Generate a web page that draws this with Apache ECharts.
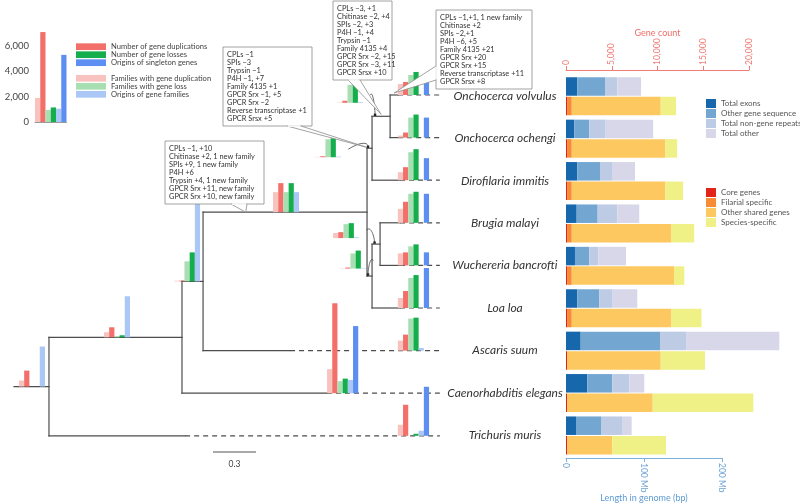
<!DOCTYPE html>
<html><head><meta charset="utf-8">
<script src="https://cdn.jsdelivr.net/npm/echarts@6/dist/echarts.min.js"></script>
<style>html,body{margin:0;padding:0;background:#fff}#c{width:800px;height:503px}</style>
</head><body><div id="c"></div><script>
const FONT = 'Lato, "Open Sans", "DejaVu Sans", sans-serif';

// ---------------- DATA ----------------
const species = ['Onchocerca volvulus','Onchocerca ochengi','Dirofilaria immitis','Brugia malayi','Wuchereria bancrofti','Loa loa','Ascaris suum','Caenorhabditis elegans','Trichuris muris'];

// genome composition (Mb)
const exonsMb      = [14.5, 10.6, 14.5, 13.7, 11.5, 14.5, 18.8, 27.3, 12.8];
const otherGeneMb  = [35.5, 19.2, 29.1, 26.9, 18.4, 28.2, 101.7, 32.1, 32.1];
const repeatsMb    = [15.8, 21.0, 16.3, 25.1, 11.5, 17.1, 34.2, 21.8, 27.8];
const otherMb      = [30.4, 61.0, 28.6, 28.2, 35.5, 31.6, 118.8, 19.2, 11.5];
// gene counts
const coreGenes       = [120, 120, 120, 120, 120, 120, 120, 120, 120];
const filarialGenes   = [510, 510, 510, 510, 510, 510, 0, 0, 0];
const otherShared     = [9720, 10230, 10230, 10900, 11170, 10900, 10230, 9355, 4940];
const speciesSpecific = [1670, 1280, 1935, 2480, 1130, 3280, 4840, 10995, 5870];

// tree: node ids, parents, branch lengths (substitutions per site)
const nodeIds      = ['root','N1','N2','N3','N4','N5','N6','N7'].concat(species);
const nodeParent   = [null,'root','N1','N2','N3','N4','N3','N6','N5','N5','N4','N7','N7','N6','N2','N1','root'];
const branchLength = [0.244, 0.928, 0.147, 1.144, 0.035, 0.126, 0.035, 0.056, 0.056, 0.056, 0.195, 0.14, 0.14, 0.195, 0.607, 1.012, 0.95];

// per-branch gene family events (same node order)
const famDupCounts     = [470, 400, 50, 1580, 30, 30, 30, 400, 870, 160, 630, 1100, 950, 790, 790, 1900, 870];
const geneDupCounts    = [1260, 790, 60, 2290, 80, 160, 80, 470, 1030, 400, 1030, 1660, 1030, 1340, 1260, 7100, 2450];
const famLossCounts    = [0, 80, 1580, 1580, 1420, 1420, 1190, 1100, 1580, 1580, 2210, 2290, 1500, 2370, 2530, 950, 0];
const geneLossCounts   = [0, 160, 2290, 2290, 1500, 1500, 1420, 1180, 1820, 1820, 2450, 2450, 1660, 2600, 2600, 1150, 160];
const famOriginCounts  = [3160, 3240, 7900, 1580, 50, 50, 30, 60, 0, 0, 0, 0, 0, 0, 200, 1050, 400];
const singletonCounts  = [0, 0, 0, 0, 0, 0, 0, 0, 1260, 1580, 1740, 2290, 1030, 3160, 0, 5300, 3870];

const eventNames = ['Families with gene duplication','Number of gene duplications','Families with gene loss','Number of gene losses','Origins of gene families','Origins of singleton genes'];
const legendTickLabels = ['0','2,000','4,000','6,000'];
const geneCountTickLabels = ['0','5,000','10,000','15,000','20,000'];
const lengthTickLabels = ['0','100 Mb','200 Mb'];
const scaleBarLength = 0.3;

const calloutFilarioidea = ['CPLs \u22121, +10','Chitinase +2, 1 new family','SPIs +9, 1 new family','P4H +6','Trypsin +4, 1 new family','GPCR Srx +11, new family','GPCR Srx +10, new family'];
const calloutN4 = ['CPLs \u22121','SPIs \u22123','Trypsin \u22121','P4H \u22121, +7','Family 4135 +1','GPCR Srx \u22121, +5','GPCR Srx \u22122','Reverse transcriptase +1','GPCR Srsx +5'];
const calloutOnchocerca = ['CPLs \u22123, +1','Chitinase \u22122, +4','SPIs \u22122, +3','P4H \u22121, +4','Trypsin \u22121','Family 4135 +4','GPCR Srx \u22122, +15','GPCR Srx \u22123, +11','GPCR Srsx +10'];
const calloutOv = ['CPLs \u22121,+1, 1 new family','Chitinase +2','SPIs \u22122,+1','P4H \u22126, +5','Family 4135 +21','GPCR Srx +20','GPCR Srx +15','Reverse transcriptase +11','GPCR Srsx +8'];

// ---------------- STYLE / LAYOUT ----------------
const eventColors = ['#f8c3be','#f26f6a','#a7dfb3','#15ae4c','#abc7f6','#5c8ff1'];
const genomeNames = ['Total exons','Other gene sequence','Total non-gene repeats','Total other'];
const genomeColors = ['#1767ad','#73a7d2','#bdcbe4','#d8d7ea'];
const geneNames = ['Core genes','Filarial specific','Other shared genes','Species-specific'];
const geneColors = ['#e2231a','#f68c35','#fdc85f','#eff085'];
const BAR_W = 5.2;
const ALIGN_X = 2.971; // tips aligned (tree x units)
const groupLayout = {
  root:{dx:-30}, N1:{dx:-78}, N2:{dx:-29}, N3:{dx:-94},
  N4:{dx:-57, dy:9, arrow:true, t:0.5}, N5:{dx:-53, dy:-13.5, arrow:true, t:0.25},
  N6:{dx:-32, dy:-7.5, arrow:true, t:0.5}, N7:{dx:-47, dy:-6, arrow:true, t:0.5},
  'Caenorhabditis elegans':{dx:0}
};
const tipGroupLayout = {align:true, dx:-42};

// ---------------- TREE LAYOUT ----------------
const idx = {}; nodeIds.forEach((id,i)=>idx[id]=i);
const children = nodeIds.map(()=>[]);
nodeParent.forEach((p,i)=>{ if(p!==null) children[idx[p]].push(i); });
const nodeX = new Array(nodeIds.length), nodeY = new Array(nodeIds.length), parentX = new Array(nodeIds.length);
function layX(i, base){ parentX[i]=base; nodeX[i]=base+branchLength[i]; children[i].forEach(c=>layX(c,nodeX[i])); }
layX(0, 0);
function layY(i){
  const sp = species.indexOf(nodeIds[i]);
  if (sp>=0) { nodeY[i]=sp; return sp; }
  const ys = children[i].map(layY); nodeY[i]=(Math.min(...ys)+Math.max(...ys))/2; return nodeY[i];
}
layY(0);
const treeSegments = [];
nodeIds.forEach((id,i)=>{
  treeSegments.push([parentX[i], nodeY[i], nodeX[i], nodeY[i], 0]);
  if (children[i].length) {
    const ys = children[i].map(c=>nodeY[c]);
    treeSegments.push([nodeX[i], Math.min(...ys), nodeX[i], Math.max(...ys), 0]);
  } else {
    treeSegments.push([nodeX[i], nodeY[i], ALIGN_X, nodeY[i], 1]);
  }
});
const eventArrays = [famDupCounts, geneDupCounts, famLossCounts, geneLossCounts, famOriginCounts, singletonCounts];
const ceIndex = idx['Caenorhabditis elegans'];

let pxPerGene = null;

function renderSeg(params, api){
  const p1 = api.coord([api.value(0), api.value(1)]);
  const p2 = api.coord([api.value(2), api.value(3)]);
  const dashed = api.value(4) === 1;
  return {type:'line', shape:{x1:p1[0],y1:p1[1],x2:p2[0],y2:p2[1]},
    style:{stroke:'#4d4d4d', lineWidth:1.2, lineDash: dashed ? [5,4] : null, lineCap: dashed ? 'butt':'square'}};
}
function renderGroup(params, api){
  if (pxPerGene === null) return null;
  const i = api.value(2);
  const id = nodeIds[i];
  const L = groupLayout[id] || tipGroupLayout;
  const p = api.coord([L.align ? ALIGN_X : nodeX[i], nodeY[i]]);
  const left = p[0] + L.dx, base = p[1] + (L.dy || 0);
  const kids = [];
  eventArrays.forEach((arr,k)=>{
    const h = arr[i]*pxPerGene;
    if (h > 0) kids.push({type:'rect', shape:{x:left+k*BAR_W, y:base-h, width:BAR_W, height:h}, style:{fill:eventColors[k]}});
  });
  if (L.arrow) {
    const tg = api.coord([parentX[i] + (nodeX[i]-parentX[i])*L.t, nodeY[i]]);
    const sx = left + 6*BAR_W + 2, sy = base - 8;
    const ex = tg[0] - 1.5, ey = tg[1] - 1.5;
    kids.push({type:'bezierCurve', shape:{x1:sx,y1:sy,x2:ex,y2:ey,cpx1:sx+(ex-sx)*0.6,cpy1:Math.min(sy,ey)-5,cpx2:ex,cpy2:ey-5},
      style:{stroke:'#444', lineWidth:0.8, fill:null}});
    kids.push({type:'rect', shape:{x:ex-1.2,y:ey-1.2,width:2.4,height:2.4}, style:{fill:'#222'}});
  }
  return {type:'group', children:kids};
}

function buildOption(graphics){
  const legendSeries = eventNames.map((n,k)=>({
    name:n, type:'bar', xAxisIndex:0, yAxisIndex:0, barWidth:'100%', barGap:'-100%',
    itemStyle:{color:eventColors[k]}, data:eventNames.map((_,j)=> j===k ? eventArrays[k][ceIndex] : '-')
  }));
  const genomeSeries = [exonsMb, otherGeneMb, repeatsMb, otherMb].map((d,k)=>({
    name:genomeNames[k], type:'bar', xAxisIndex:2, yAxisIndex:2, stack:'genome', barWidth:18.5, clip:false,
    itemStyle:{color:genomeColors[k]}, data:d
  }));
  const geneSeries = [coreGenes, filarialGenes, otherShared, speciesSpecific].map((d,k)=>({
    name:geneNames[k], type:'bar', xAxisIndex:3, yAxisIndex:3, stack:'genes', barWidth:18.5, clip:false,
    itemStyle:{color:geneColors[k]}, data:d
  }));
  const legendBase = {orient:'vertical', icon:'rect', padding:0, selectedMode:false, itemGap:0};
  return {
    animation:false,
    textStyle:{fontFamily:FONT},
    grid:[
      {left:35, top:20.67, width:31.5, height:101.33, containLabel:false, outerBoundsMode:'none'},
      {left:14, top:95, width:430, height:340.8, containLabel:false, outerBoundsMode:'none'},
      {left:566, top:65.3, width:156, height:381.6, containLabel:false, outerBoundsMode:'none'},
      {left:566, top:84.8, width:183, height:381.6, containLabel:false, outerBoundsMode:'none'},
      {left:566, top:74.8, width:10, height:381.6, containLabel:false, outerBoundsMode:'none'}
    ],
    xAxis:[
      {gridIndex:0, type:'category', data:eventNames, axisLine:{lineStyle:{color:'#999', width:1}}, axisTick:{show:false}, axisLabel:{show:false}},
      {gridIndex:1, type:'value', min:0, max:3, show:false},
      {gridIndex:2, type:'value', min:0, max:200, interval:100, position:'bottom', offset:11.1,
        axisLine:{show:true, lineStyle:{color:'#7eb0dc', width:1}}, axisTick:{show:true, length:4, lineStyle:{color:'#7eb0dc'}},
        splitLine:{show:false},
        axisLabel:{rotate:-90, fontSize:8.5, color:'#6da3d4', margin:5, formatter:(v)=>lengthTickLabels[Math.round(v/100)] || ''},
        name:'Length in genome (bp)', nameLocation:'middle', nameGap:36, nameMoveOverlap:false, nameTextStyle:{color:'#5d9bd3', fontSize:9}},
      {gridIndex:3, type:'value', min:0, max:20000, interval:5000, position:'top', offset:14.8,
        axisLine:{show:true, lineStyle:{color:'#ef7c76', width:1}}, axisTick:{show:true, length:4, lineStyle:{color:'#ef7c76'}},
        splitLine:{show:false},
        axisLabel:{rotate:-90, fontSize:8.5, color:'#ef7c76', margin:5, formatter:(v)=>geneCountTickLabels[Math.round(v/5000)] || ''},
        name:'Gene count', nameLocation:'middle', nameGap:32, nameMoveOverlap:false, nameTextStyle:{color:'#ee6e68', fontSize:9}},
      {gridIndex:4, type:'value', show:false}
    ],
    yAxis:[
      {gridIndex:0, type:'value', min:0, max:8000, interval:2000, axisLine:{show:false}, axisTick:{show:false}, splitLine:{show:false},
        axisLabel:{fontSize:9.5, color:'#444', margin:6, formatter:(v)=>legendTickLabels[Math.round(v/2000)] || ''}},
      {gridIndex:1, type:'value', min:0, max:8, inverse:true, show:false},
      {gridIndex:2, type:'category', data:species, inverse:true, show:false},
      {gridIndex:3, type:'category', data:species, inverse:true, show:false},
      {gridIndex:4, type:'category', data:species, inverse:true, axisLine:{show:false}, axisTick:{show:false},
        axisLabel:{align:'center', margin:61, fontStyle:'italic', fontSize:12, color:'#333', fontFamily:FONT}}
    ],
    legend:[
      Object.assign({}, legendBase, {data:[eventNames[1],eventNames[3],eventNames[5]], left:76, top:42.7, itemWidth:30, itemHeight:6.7,
        textStyle:{fontSize:7.6, color:'#444', lineHeight:6.7, fontFamily:FONT}}),
      Object.assign({}, legendBase, {data:[eventNames[0],eventNames[2],eventNames[4]], left:76, top:74.3, itemWidth:30, itemHeight:6.7,
        textStyle:{fontSize:7.6, color:'#444', lineHeight:6.7, fontFamily:FONT}}),
      Object.assign({}, legendBase, {data:genomeNames, left:706, top:99, itemWidth:10, itemHeight:9, itemGap:1,
        textStyle:{fontSize:8, color:'#555', lineHeight:9, fontFamily:FONT}}),
      Object.assign({}, legendBase, {data:geneNames, left:706, top:188, itemWidth:10, itemHeight:9, itemGap:1,
        textStyle:{fontSize:8, color:'#555', lineHeight:9, fontFamily:FONT}})
    ],
    series: legendSeries.concat(genomeSeries, geneSeries, [
      {type:'custom', name:'tree', xAxisIndex:1, yAxisIndex:1, renderItem:renderSeg, data:treeSegments, z:2, silent:true, clip:false},
      {type:'custom', name:'events', xAxisIndex:1, yAxisIndex:1, renderItem:renderGroup,
        data:nodeIds.map((id,i)=>[nodeX[i], nodeY[i], i]), z:3, silent:true, clip:false}
    ]),
    graphic: graphics
  };
}

const chart = echarts.init(document.getElementById('c'), null, {renderer:'canvas'});
chart.setOption(buildOption([]));

// scales from the library
pxPerGene = (chart.convertToPixel({yAxisIndex:0}, 0) - chart.convertToPixel({yAxisIndex:0}, 6000)) / 6000;
function branchPoint(id, t){
  const i = idx[id];
  return chart.convertToPixel({gridIndex:1}, [parentX[i] + (nodeX[i]-parentX[i])*t, nodeY[i]]);
}
const LINE_H = 8, PAD = 3.5;
function callout(lines, box, b1, b2, target){
  const h = lines.length*LINE_H + 2*PAD;
  const els = [];
  els.push({type:'rect', shape:{x:box.x, y:box.y, width:box.w, height:h}, style:{fill:'#fff', stroke:'#8c8c8c', lineWidth:0.8}, z:100});
  els.push({type:'polygon', shape:{points:[b1, target, b2]}, style:{fill:'#fff', stroke:'#8c8c8c', lineWidth:0.8}, z:101});
  els.push({type:'line', shape:{x1:b1[0]+(b2[0]-b1[0])*0.04, y1:b1[1]+(b2[1]-b1[1])*0.04, x2:b2[0]-(b2[0]-b1[0])*0.04, y2:b2[1]-(b2[1]-b1[1])*0.04}, style:{stroke:'#fff', lineWidth:1.6}, z:102});
  els.push({type:'text', x:box.x+4, y:box.y+PAD, style:{text:lines.join('\n'), fontSize:7.4, lineHeight:LINE_H, fill:'#333', fontFamily:FONT, verticalAlign:'top'}, z:103});
  return els;
}
const graphics = [];
let tg = branchPoint('N3', 0.26);
graphics.push(...callout(calloutFilarioidea, {x:165, y:141, w:99}, [231,141+7*LINE_H+2*PAD], [247,141+7*LINE_H+2*PAD], tg));
tg = branchPoint('N4', 0.5);
graphics.push(...callout(calloutN4, {x:223, y:47, w:89}, [287,47+9*LINE_H+2*PAD], [301,47+9*LINE_H+2*PAD], [tg[0]-3, tg[1]-1]));
tg = branchPoint('N5', 0.5);
graphics.push(...callout(calloutOnchocerca, {x:333, y:1, w:59}, [348,1+9*LINE_H+2*PAD], [360,1+9*LINE_H+2*PAD], [tg[0], tg[1]-2]));
tg = branchPoint('Onchocerca volvulus', 0.5);
graphics.push(...callout(calloutOv, {x:436, y:10, w:96}, [436,66], [436,80], [tg[0], tg[1]-2]));
// scale bar
const s0 = chart.convertToPixel({gridIndex:1}, [0, 0]);
const s1 = chart.convertToPixel({gridIndex:1}, [scaleBarLength, 0]);
const sbLen = s1[0]-s0[0];
graphics.push({type:'line', shape:{x1:213, y1:452, x2:213+sbLen, y2:452}, style:{stroke:'#555', lineWidth:1}});
graphics.push({type:'text', x:213+sbLen/2, y:460, style:{text:String(scaleBarLength), fontSize:8.5, fill:'#444', align:'center', verticalAlign:'top', fontFamily:FONT}});

chart.setOption(buildOption(graphics), true);
</script></body></html>
